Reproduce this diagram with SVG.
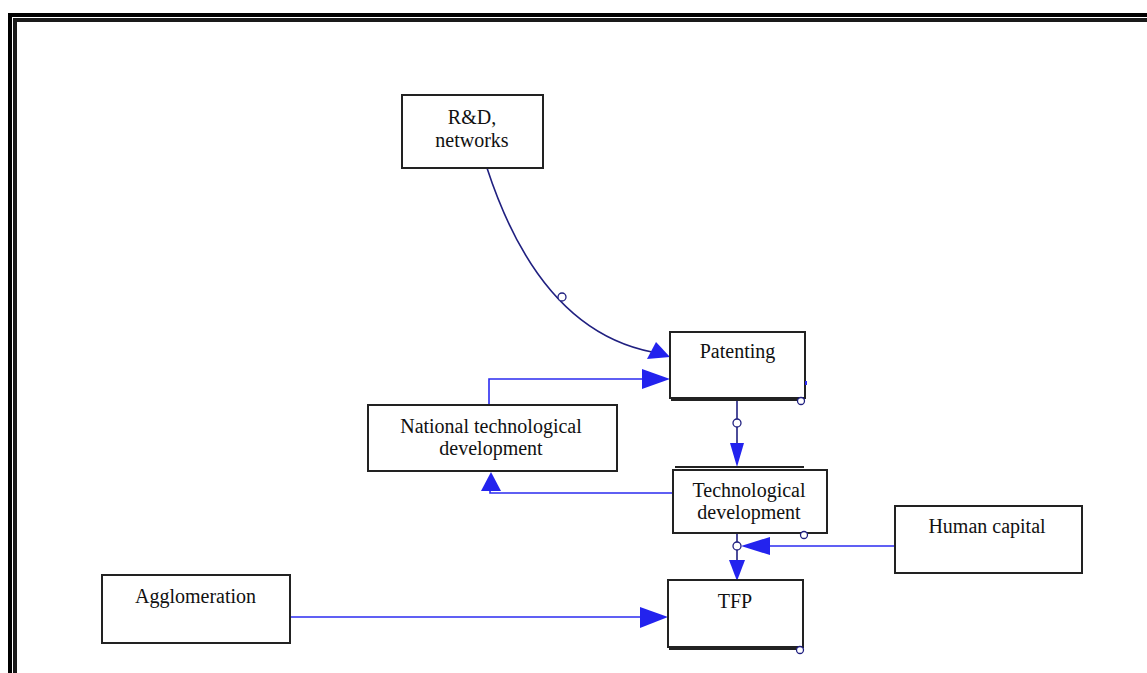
<svg xmlns="http://www.w3.org/2000/svg" width="1147" height="673" viewBox="0 0 1147 673">
<style>
.box{fill:#fff;stroke:#222;stroke-width:2}
.lbl{font-family:"Liberation Serif","Times New Roman",serif;font-size:20px;fill:#111;text-anchor:middle}
.blue{fill:none;stroke:#2b2bf0;stroke-width:1.6}
.navy{fill:none;stroke:#202080;stroke-width:1.6}
.ah{fill:#2323ee;stroke:none}
.dot{fill:#fff;stroke:#202080;stroke-width:1.3}
.sh{fill:none;stroke:#222;stroke-width:2}
</style>
<rect x="0" y="0" width="1147" height="673" fill="#fff"/>
<g id="frame">
<path d="M10,690 V15 H1160" fill="none" stroke="#000" stroke-width="4"/>
<path d="M15,690 V20 H1160" fill="none" stroke="#1a1a1a" stroke-width="4"/>
</g>
<g id="connectors">
<path class="navy" d="M487,168 Q540,330 652,352"/>
<polygon class="ah" points="670,357 647,359 656,342"/>
<circle class="dot" cx="562" cy="297" r="4"/>
<path class="blue" d="M489,405 V379 H645"/>
<polygon class="ah" points="670,379 642,369 642,389"/>
<path class="navy" d="M737,398 V447"/>
<circle class="dot" cx="737" cy="423" r="4"/>
<polygon class="ah" points="737,467 730,443 744,443"/>
<path class="blue" d="M673,493 H490 V490"/>
<polygon class="ah" points="491,472 481,491 501,491"/>
<path class="navy" d="M737,533 V562"/>
<circle class="dot" cx="737" cy="546" r="4"/>
<polygon class="ah" points="737,581 729,560 745,560"/>
<path class="blue" d="M895,546 H770"/>
<polygon class="ah" points="741,546 770,537 770,555"/>
<path class="blue" d="M290,617 H645"/>
<polygon class="ah" points="668,617 640,607 640,628"/>
</g>
<g id="rnd">
<rect class="box" x="402" y="95" width="141" height="73"/>
<text class="lbl" x="472" y="124">R&amp;D,</text>
<text class="lbl" x="472" y="147">networks</text>
</g>
<g id="patenting">
<rect class="box" x="670" y="332" width="135" height="66"/>
<line class="sh" x1="671" y1="400" x2="800" y2="400"/>
<circle class="dot" cx="801" cy="401" r="3.5"/>
<line x1="806" y1="381" x2="806" y2="385" stroke="#2b2bf0" stroke-width="2"/>
<text class="lbl" x="737.5" y="358">Patenting</text>
</g>
<g id="national">
<rect class="box" x="368" y="405" width="249" height="66"/>
<text class="lbl" x="491" y="433">National technological</text>
<text class="lbl" x="491" y="455">development</text>
</g>
<g id="techdev">
<line class="sh" x1="675" y1="467" x2="804" y2="467"/>
<rect class="box" x="673" y="470" width="154" height="63"/>
<circle class="dot" cx="804" cy="535" r="3.5"/>
<text class="lbl" x="749" y="497">Technological</text>
<text class="lbl" x="749" y="519">development</text>
</g>
<g id="human">
<rect class="box" x="895" y="506" width="187" height="67"/>
<text class="lbl" x="987" y="533">Human capital</text>
</g>
<g id="tfp">
<rect class="box" x="668" y="580" width="135" height="67"/>
<line class="sh" x1="669" y1="649" x2="799" y2="649"/>
<circle class="dot" cx="800" cy="650" r="3.5"/>
<text class="lbl" x="735" y="608">TFP</text>
</g>
<g id="agglomeration">
<rect class="box" x="102" y="575" width="188" height="68"/>
<text class="lbl" x="195.5" y="603">Agglomeration</text>
</g>
</svg>
